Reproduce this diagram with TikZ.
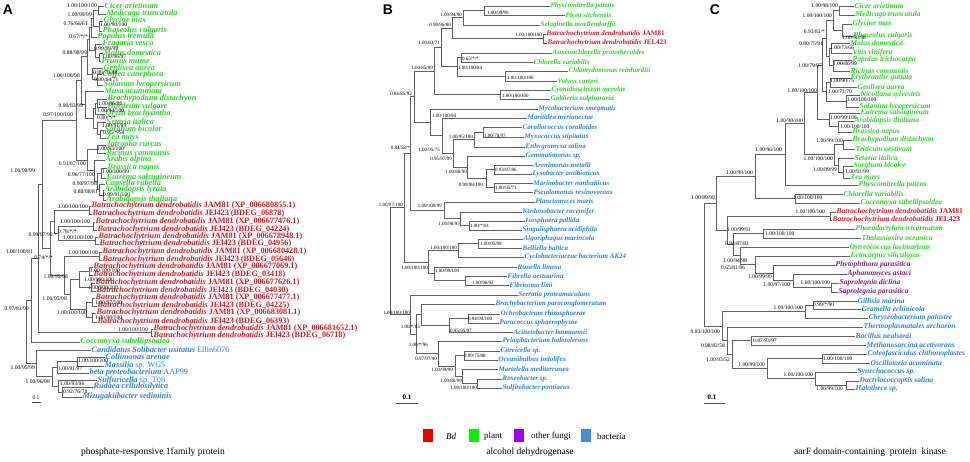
\documentclass[tikz,border=0pt]{standalone}
\usepackage{fontspec}
\setmainfont{Liberation Serif}
\newfontfamily\panelfont{Liberation Sans}
\definecolor{plantgreen}{RGB}{35,215,35}
\definecolor{bdred}{RGB}{215,25,35}
\definecolor{bacblue}{RGB}{40,130,220}
\definecolor{fungpurple}{RGB}{125,30,130}
\definecolor{lgred}{RGB}{245,0,0}
\definecolor{lggreen}{RGB}{0,245,0}
\definecolor{lgpurple}{RGB}{160,0,250}
\definecolor{lgblue}{RGB}{70,140,230}
\newcommand{\bdname}[1]{Batrachochytrium dendrobatidis \textup{#1}}
\newcommand{\plainpart}[1]{\textup{\mdseries #1}}
\tikzset{
  br/.style={draw=black!62, line width=0.6pt},
  lfA/.style={anchor=west, inner sep=0.5pt, font=\fontsize{8.2}{9}\selectfont\bfseries\itshape},
  lfB/.style={anchor=west, inner sep=0.5pt, font=\fontsize{7}{8}\selectfont\bfseries\itshape},
  lfC/.style={anchor=west, inner sep=0.5pt, font=\fontsize{7.5}{8}\selectfont\bfseries\itshape},
  bsA/.style={inner sep=0pt, font=\fontsize{5.6}{6}\selectfont},
  bsB/.style={inner sep=0pt, font=\fontsize{5}{6}\selectfont},
  bsC/.style={inner sep=0pt, font=\fontsize{5.5}{6}\selectfont},
  plant/.style={text=plantgreen},
  bd/.style={text=bdred},
  bac/.style={text=bacblue},
  fungi/.style={text=fungpurple},
  pnl/.style={font=\panelfont\bfseries\fontsize{14}{14}\selectfont, inner sep=0pt},
  ttl/.style={font=\fontsize{9.5}{10}\selectfont, inner sep=0pt},
  lgd/.style={anchor=west, font=\fontsize{9}{10}\selectfont, inner sep=0pt},
  swatch/.style={minimum width=10pt, minimum height=13pt, inner sep=0pt},
  sbar/.style={draw=black!70, line width=0.9pt}
}
\begin{document}
\begin{tikzpicture}[x=1pt,y=-1pt]
\fill[white] (0,0) rectangle (970,462);
\useasboundingbox (0,0) rectangle (970,462);

% ---------------- panel A
\node[pnl] (A-lab) at (8,10) {A};
\node[lfA,plant] (A-cic) at (104,6) {Cicer arietinum};
\node[lfA,plant] (A-med) at (106,14) {Medicago truncatula};
\node[lfA,plant] (A-gly) at (103,21) {Glycine max};
\node[lfA,plant] (A-pha) at (102,31) {Phaseolus vulgaris};
\node[lfA,plant] (A-pop) at (97,37) {Populus tremula};
\node[lfA,plant] (A-fra) at (102,44) {Fragaria vesca};
\node[lfA,plant] (A-mal) at (103,53) {Malus domestica};
\node[lfA,plant] (A-pru) at (101,61) {Prunus mume};
\node[lfA,plant] (A-gen) at (103,68) {Genlisea aurea};
\node[lfA,plant] (A-cof) at (102,74) {Coffea canephora};
\node[lfA,plant] (A-sol) at (103,85) {Solanum lycopersicum};
\node[lfA,plant] (A-mus) at (104,91) {Musa acuminata};
\node[lfA,plant] (A-bra) at (107,99) {Brachypodium distachyon};
\node[lfA,plant] (A-hor) at (107,107) {Hordeum vulgare};
\node[lfA,plant] (A-ory) at (105,114) {Oryza brachyantha};
\node[lfA,plant] (A-set) at (106,122) {Setaria italica};
\node[lfA,plant] (A-sor) at (104,130) {Sorghum bicolor};
\node[lfA,plant] (A-zea) at (106,138) {Zea mays};
\node[lfA,plant] (A-jat) at (106,145) {Jatropha curcas};
\node[lfA,plant] (A-ric) at (106,153) {Ricinus communis};
\node[lfA,plant] (A-ara) at (105,160) {Arabis alpina};
\node[lfA,plant] (A-bna) at (107,168) {Brassica napus};
\node[lfA,plant] (A-eut) at (106,178) {Eutrema salsugineum};
\node[lfA,plant] (A-cap) at (105,184) {Capsella rubella};
\node[lfA,plant] (A-aly) at (104,190) {Arabidopsis lyrata};
\node[lfA,plant] (A-ath) at (106,200) {Arabidopsis thaliana};
\node[lfA,bd] (A-bd1) at (91,206) {\bdname{JAM81 (XP\_006680855.1)}};
\node[lfA,bd] (A-bd2) at (92,214) {\bdname{JEl423 (BDEG\_06878)}};
\node[lfA,bd] (A-bd3) at (95,222) {\bdname{JAM81 (XP\_006677476.1)}};
\node[lfA,bd] (A-bd4) at (97,230) {\bdname{JEl423 (BDEG\_04224)}};
\node[lfA,bd] (A-bd5) at (98,237) {\bdname{JAM81 (XP\_006678948.1)}};
\node[lfA,bd] (A-bd6) at (99,244) {\bdname{JEl423 (BDEG\_04956)}};
\node[lfA,bd] (A-bd7) at (102,252) {\bdname{JAM81 (XP\_006680428.1)}};
\node[lfA,bd] (A-bd8) at (102,260) {\bdname{JEl423 (BDEG\_05646)}};
\node[lfA,bd] (A-bd9) at (93,267) {\bdname{JAM81 (XP\_006677069.1)}};
\node[lfA,bd] (A-bd10) at (93,275) {\bdname{JEl423 (BDEG\_03418)}};
\node[lfA,bd] (A-bd11) at (95,283) {\bdname{JAM81 (XP\_006677626.1)}};
\node[lfA,bd] (A-bd12) at (96,291) {\bdname{JEl423 (BDEG\_04030)}};
\node[lfA,bd] (A-bd13) at (95,298) {\bdname{JAM81 (XP\_006677477.1)}};
\node[lfA,bd] (A-bd14) at (97,306) {\bdname{JEl423 (BDEG\_04225)}};
\node[lfA,bd] (A-bd15) at (96,313) {\bdname{JAM81 (XP\_006683081.1)}};
\node[lfA,bd] (A-bd16) at (97,322) {\bdname{JEl423 (BDEG\_06393)}};
\node[lfA,bd] (A-bd17) at (153,329) {\bdname{JAM81 (XP\_006681652.1)}};
\node[lfA,bd] (A-bd18) at (153,336) {\bdname{JEl423 (BDEG\_06718)}};
\node[lfA,plant] (A-coc) at (80,342) {Coccomyxa subellipsoidea};
\node[lfA,bac] (A-can) at (91,350) {Candidatus Solibacter usitatus \plainpart{Ellin6076}};
\node[lfA,bac] (A-col) at (105,357) {Collimonas arenae};
\node[lfA,bac] (A-mas) at (104,366) {Massilia \plainpart{sp. WG5}};
\node[lfA,bac] (A-bet) at (89,373) {beta proteobacterium \plainpart{AAP99}};
\node[lfA,bac] (A-sul) at (97,380) {Sulfuricella \plainpart{sp. T08}};
\node[lfA,bac] (A-rud) at (93,387) {Rudaea cellulosilytica};
\node[lfA,bac] (A-miz) at (82,397) {Mizugakiibacter sediminis};

\coordinate (A1) at (98,10);
\coordinate (A2) at (99,26);
\coordinate (A3) at (93.5,18);
\coordinate (A4) at (91,27.5);
\coordinate (A5) at (99,57);
\coordinate (A6) at (95,50.5);
\coordinate (A7) at (89.5,39);
\coordinate (A8) at (97,79.5);
\coordinate (A9) at (92,74);
\coordinate (A10) at (87.5,56.5);
\coordinate (A11) at (97,103);
\coordinate (A12) at (95,108.5);
\coordinate (A13) at (100,134);
\coordinate (A14) at (97,128);
\coordinate (A15) at (93,118);
\coordinate (A16) at (85,104.5);
\coordinate (A17) at (81,80.5);
\coordinate (A18) at (97,149);
\coordinate (A19) at (101,173);
\coordinate (A20) at (103,195);
\coordinate (A21) at (99,189.5);
\coordinate (A22) at (97,181);
\coordinate (A23) at (94,170.5);
\coordinate (A24) at (87,160);
\coordinate (A25) at (76,120);
\coordinate (Ap1) at (89,210);
\coordinate (Ap2) at (93,226);
\coordinate (Ap3) at (95,240.5);
\coordinate (Ap4) at (99,256);
\coordinate (Ap5) at (89,271);
\coordinate (Ap6) at (91,287);
\coordinate (Ap7) at (92,302);
\coordinate (Ap8) at (92,317.5);
\coordinate (Ap9) at (151,332.5);
\coordinate (Ab2) at (58,233);
\coordinate (Ab1) at (54,221.5);
\coordinate (Ab5) at (79,279);
\coordinate (Ab6) at (86,309.75);
\coordinate (Ab7) at (70,294.4);
\coordinate (Ab8) at (64,275.2);
\coordinate (Ab9) at (50,248.3);
\coordinate (A26) at (42,184.2);
\coordinate (An2) at (38,258.4);
\coordinate (An3) at (31,300.2);
\coordinate (Ac5) at (77,361.5);
\coordinate (Ac3) at (57,367.2);
\coordinate (Ac7) at (62,392);
\coordinate (Ac6) at (58,386);
\coordinate (Ac2) at (52,376.6);
\coordinate (Ac1) at (36,363.3);
\coordinate (Aroot) at (26,331.8);

\draw[br] (A1) |- (A-cic) (A1) |- (A-med);
\draw[br] (A2) |- (A-gly) (A2) |- (A-pha);
\draw[br] (A3) |- (A1) (A3) |- (A2);
\draw[br] (A4) |- (A3) (A4) |- (A-pop);
\draw[br] (A5) |- (A-mal) (A5) |- (A-pru);
\draw[br] (A6) |- (A-fra) (A6) |- (A5);
\draw[br] (A7) |- (A4) (A7) |- (A6);
\draw[br] (A8) |- (A-cof) (A8) |- (A-sol);
\draw[br] (A9) |- (A-gen) (A9) |- (A8);
\draw[br] (A10) |- (A7) (A10) |- (A9);
\draw[br] (A11) |- (A-bra) (A11) |- (A-hor);
\draw[br] (A12) |- (A11) (A12) |- (A-ory);
\draw[br] (A13) |- (A-sor) (A13) |- (A-zea);
\draw[br] (A14) |- (A-set) (A14) |- (A13);
\draw[br] (A15) |- (A12) (A15) |- (A14);
\draw[br] (A16) |- (A-mus) (A16) |- (A15);
\draw[br] (A17) |- (A10) (A17) |- (A16);
\draw[br] (A18) |- (A-jat) (A18) |- (A-ric);
\draw[br] (A19) |- (A-bna) (A19) |- (A-eut);
\draw[br] (A20) |- (A-aly) (A20) |- (A-ath);
\draw[br] (A21) |- (A-cap) (A21) |- (A20);
\draw[br] (A22) |- (A19) (A22) |- (A21);
\draw[br] (A23) |- (A-ara) (A23) |- (A22);
\draw[br] (A24) |- (A18) (A24) |- (A23);
\draw[br] (A25) |- (A17) (A25) |- (A24);
\draw[br] (Ap1) |- (A-bd1) (Ap1) |- (A-bd2);
\draw[br] (Ap2) |- (A-bd3) (Ap2) |- (A-bd4);
\draw[br] (Ap3) |- (A-bd5) (Ap3) |- (A-bd6);
\draw[br] (Ap4) |- (A-bd7) (Ap4) |- (A-bd8);
\draw[br] (Ap5) |- (A-bd9) (Ap5) |- (A-bd10);
\draw[br] (Ap6) |- (A-bd11) (Ap6) |- (A-bd12);
\draw[br] (Ap7) |- (A-bd13) (Ap7) |- (A-bd14);
\draw[br] (Ap8) |- (A-bd15) (Ap8) |- (A-bd16);
\draw[br] (Ap9) |- (A-bd17) (Ap9) |- (A-bd18);
\draw[br] (Ab2) |- (Ap2) (Ab2) |- (Ap3);
\draw[br] (Ab1) |- (Ap1) (Ab1) |- (Ab2);
\draw[br] (Ab5) |- (Ap5) (Ab5) |- (Ap6);
\draw[br] (Ab6) |- (Ap7) (Ab6) |- (Ap8);
\draw[br] (Ab7) |- (Ab5) (Ab7) |- (Ab6);
\draw[br] (Ab8) |- (Ap4) (Ab8) |- (Ab7);
\draw[br] (Ab9) |- (Ab1) (Ab9) |- (Ab8);
\draw[br] (A26) |- (A25) (A26) |- (Ab9);
\draw[br] (An2) |- (A26) (An2) |- (Ap9);
\draw[br] (An3) |- (An2) (An3) |- (A-coc);
\draw[br] (Ac5) |- (A-col) (Ac5) |- (A-mas);
\draw[br] (Ac3) |- (Ac5) (Ac3) |- (A-bet);
\draw[br] (Ac7) |- (A-rud) (Ac7) |- (A-miz);
\draw[br] (Ac6) |- (A-sul) (Ac6) |- (Ac7);
\draw[br] (Ac2) |- (Ac3) (Ac2) |- (Ac6);
\draw[br] (Ac1) |- (A-can) (Ac1) |- (Ac2);
\draw[br] (Aroot) |- (An3) (Aroot) |- (Ac1);

\node[bsA,anchor=east] (sA1) at (97,6) {1.00/100/100};
\node[bsA,anchor=east] (sA2) at (92,15) {1.00/99/99};
\node[bsA,anchor=west] (sA3) at (100,25) {1.00/90/100};
\node[bsA,anchor=east] (sA4) at (88,24) {0.76/66/61};
\node[bsA,anchor=east] (sA5) at (88,37) {0.67/*/*};
\node[bsA,anchor=west] (sA6) at (94,49) {0.99/99/99};
\node[bsA,anchor=west] (sA7) at (102,57) {1.00/96/97};
\node[bsA,anchor=east] (sA8) at (87,53) {0.88/98/99};
\node[bsA,anchor=west] (sA9) at (93,73) {0.88/78/88};
\node[bsA,anchor=west] (sA10) at (94,80) {0.80/64/71};
\node[bsA,anchor=east] (sA11) at (80,76) {1.00/100/98};
\node[bsA,anchor=east] (sA12) at (83,106) {0.90/83/99};
\node[bsA,anchor=west] (sA13) at (98,104) {1.00/96/80};
\node[bsA,anchor=west] (sA14) at (97,111) {1.00/94/100};
\node[bsA,anchor=west] (sA15) at (97,118) {0.80/*/*};
\node[bsA,anchor=west] (sA16) at (102,126) {1.00/91/99};
\node[bsA,anchor=west] (sA17) at (103,133) {0.95/*/54};
\node[bsA,anchor=east] (sA18) at (73,115) {0.97/100/100};
\node[bsA,anchor=west] (sA19) at (97,149) {1.00/95/100};
\node[bsA,anchor=east] (sA20) at (35,171) {1.00/98/99};
\node[bsA,anchor=east] (sA21) at (86,164) {0.91/87/100};
\node[bsA,anchor=east] (sA22) at (95,175) {0.96/77/100};
\node[bsA,anchor=west] (sA23) at (102,172) {1.00/100/99};
\node[bsA,anchor=east] (sA24) at (97,184) {0.90/97/98};
\node[bsA,anchor=east] (sA25) at (98,192) {0.88/88/81};
\node[bsA,anchor=west] (sA26) at (103,195) {0.99/91/100};
\node[bsA,anchor=east] (sA27) at (88,207) {1.00/100/100};
\node[bsA,anchor=east] (sA28) at (90,222) {1.00/100/100};
\node[bsA,anchor=west] (sA29) at (58,232) {0.78/*/*};
\node[bsA,anchor=east] (sA30) at (53,235) {0.99/87/92};
\node[bsA,anchor=east] (sA31) at (93,238) {1.00/100/100};
\node[bsA,anchor=east] (sA32) at (98,253) {1.00/100/100};
\node[bsA,anchor=east] (sA33) at (33,252) {1.00/100/81};
\node[bsA,anchor=east] (sA34) at (53,258) {0.74/*/*};
\node[bsA,anchor=west] (sA35) at (90,271) {1.00/100/100};
\node[bsA,anchor=east] (sA36) at (68,277) {1.00/95/98};
\node[bsA,anchor=west] (sA37) at (84,280) {1.00/100/100};
\node[bsA,anchor=west] (sA38) at (88,288) {1.00/100/100};
\node[bsA,anchor=east] (sA39) at (67,299) {1.00/95/98};
\node[bsA,anchor=west] (sA40) at (95,303) {1.00/97/100};
\node[bsA,anchor=east] (sA41) at (29,309) {0.97/81/99};
\node[bsA,anchor=east] (sA42) at (87,313) {1.00/100/100};
\node[bsA,anchor=west] (sA43) at (95,318) {1.00/98/100};
\node[bsA,anchor=east] (sA44) at (148,330) {1.00/100/100};
\node[bsA,anchor=west] (sA45) at (78,361) {1.00/100/100};
\node[bsA,anchor=east] (sA46) at (35,368) {1.00/95/99};
\node[bsA,anchor=west] (sA47) at (58,369) {1.00/91/97};
\node[bsA,anchor=east] (sA48) at (50,382) {1.00/96/98};
\node[bsA,anchor=west] (sA49) at (60,384) {1.00/93/96};
\node[bsA,anchor=west] (sA50) at (63,392) {0.92/76/78};

\node[bsA] (A-sc) at (36,398) {0.1};
\coordinate (A-s0) at (31.5,402.5);
\coordinate (A-s1) at (40.5,402.5);
\draw[sbar,line width=0.6pt] (A-s0) -- (A-s1);

% ---------------- panel B
\node[pnl] (B-lab) at (388,10) {B};
\node[lfB,plant] (B-phy) at (550,6) {Physcomitrella patens};
\node[lfB,plant] (B-pic) at (565,15) {Picea sitchensis};
\node[lfB,plant] (B-sel) at (540,25) {Selaginella moellendorffii};
\node[lfB,bd] (B-bd1) at (546,34) {\bdname{JAM81}};
\node[lfB,bd] (B-bd2) at (547,43) {\bdname{JEL423}};
\node[lfB,plant] (B-aux) at (552,53) {Auxenochlorella protothecoides};
\node[lfB,plant] (B-chl) at (533,62) {Chlorella variabilis};
\node[lfB,plant] (B-chy) at (568,71) {Chlamydomonas reinhardtii};
\node[lfB,plant] (B-vol) at (557,81) {Volvox carteri};
\node[lfB,plant] (B-cya) at (551,90) {Cyanidioschyzon merolae};
\node[lfB,plant] (B-gal) at (550,99) {Galdieria sulphuraria};
\node[lfB,bac] (B-myc) at (538,109) {Mycobacterium smegmatis};
\node[lfB,bac] (B-mar) at (527,118) {Maritalea myrionectae};
\node[lfB,bac] (B-cor) at (522,127) {Corallococcus coralloides};
\node[lfB,bac] (B-myx) at (524,137) {Myxococcus stipitatus};
\node[lfB,bac] (B-enh) at (525,147) {Enhygromyxa salina};
\node[lfB,bac] (B-gem) at (525,156) {Gemmatimonas sp.};
\node[lfB,bac] (B-are) at (533,165) {Arenimonas metalli};
\node[lfB,bac] (B-lys) at (532,174) {Lysobacter antibioticus};
\node[lfB,bac] (B-mab) at (533,183) {Marinobacter nanhaiticus};
\node[lfB,bac] (B-pse) at (533,192) {Pseudomonas resinovorans};
\node[lfB,bac] (B-pla) at (535,202) {Planctomyces maris};
\node[lfB,bac] (B-kte) at (522,212) {Ktedonobacter racemifer};
\node[lfB,bac] (B-iso) at (525,221) {Isosphaera pallida};
\node[lfB,bac] (B-sin) at (522,230) {Singulisphaera acidiphila};
\node[lfB,bac] (B-alg) at (523,239) {Algoriphagus marincola};
\node[lfB,bac] (B-bel) at (522,248) {Belliella baltica};
\node[lfB,bac] (B-cyc) at (524,257) {Cyclobacteriaceae bacterium AK24};
\node[lfB,bac] (B-run) at (517,267) {Runella limosa};
\node[lfB,bac] (B-fil) at (507,276) {Fibrella aestuarina};
\node[lfB,bac] (B-fis) at (509,285) {Fibrisoma limi};
\node[lfB,bac] (B-ser) at (518,295) {Serratia proteamaculans};
\node[lfB,bac] (B-brb) at (495,304) {Brachybacterium paraconglomeratum};
\node[lfB,bac] (B-och) at (500,314) {Ochrobactrum rhizosphaerae};
\node[lfB,bac] (B-par) at (499,323) {Paracoccus sphaerophysae};
\node[lfB,bac] (B-aci) at (513,332) {Acinetobacter baumannii};
\node[lfB,bac] (B-pel) at (502,341) {Pelagibacterium halotolerans};
\node[lfB,bac] (B-cit) at (500,351) {Citreicella sp.};
\node[lfB,bac] (B-oce) at (498,360) {Oceanibulbus indolifex};
\node[lfB,bac] (B-mrt) at (498,369) {Martelella mediterranea};
\node[lfB,bac] (B-ros) at (502,379) {Roseobacter sp.};
\node[lfB,bac] (B-sft) at (502,388) {Sulfitobacter pontiacus};

\coordinate (B1) at (484,10.5);
\coordinate (B2) at (463,17.75);
\coordinate (B4) at (543,38.5);
\coordinate (B3) at (452,28.1);
\coordinate (B7) at (461,57.5);
\coordinate (B9) at (505,76);
\coordinate (B8) at (457,66.75);
\coordinate (B5) at (441,47.4);
\coordinate (B10) at (500,94.5);
\coordinate (B6) at (434,71);
\coordinate (B11) at (414,96.7);
\coordinate (Bc1) at (483,132);
\coordinate (Bc2) at (474,139.5);
\coordinate (Bc3) at (494,169.5);
\coordinate (Bc4) at (494,187.5);
\coordinate (Bc5) at (486,178.5);
\coordinate (Bc6) at (467,167.25);
\coordinate (Bc7) at (453,153.4);
\coordinate (Bc8) at (442,135.7);
\coordinate (Bc9) at (430,122.35);
\coordinate (Bc10) at (469,225.5);
\coordinate (Bc11) at (460,218.75);
\coordinate (Bc12) at (444,210.4);
\coordinate (Bc13) at (410,153.55);
\coordinate (Bc15) at (478,243.5);
\coordinate (Bc16) at (458,250.25);
\coordinate (Bc17) at (465,280.5);
\coordinate (Bc18) at (434,273.75);
\coordinate (Bc19) at (428,262);
\coordinate (Bx) at (404,207.8);
\coordinate (Bd1) at (468,318.5);
\coordinate (Bd2) at (449,325.25);
\coordinate (Bd3) at (421,314.6);
\coordinate (Bd4) at (464,355.5);
\coordinate (Bd5) at (477,383.5);
\coordinate (Bd6) at (462,376.25);
\coordinate (Bd7) at (455,365.9);
\coordinate (Bd8) at (438,353.4);
\coordinate (Bd9) at (416,334);
\coordinate (Bd10) at (410,314.5);
\coordinate (Broot) at (390,261.1);

\draw[br] (B1) |- (B-phy) (B1) |- (B-pic);
\draw[br] (B2) |- (B1) (B2) |- (B-sel);
\draw[br] (B4) |- (B-bd1) (B4) |- (B-bd2);
\draw[br] (B3) |- (B2) (B3) |- (B4);
\draw[br] (B7) |- (B-aux) (B7) |- (B-chl);
\draw[br] (B9) |- (B-chy) (B9) |- (B-vol);
\draw[br] (B8) |- (B7) (B8) |- (B9);
\draw[br] (B5) |- (B3) (B5) |- (B8);
\draw[br] (B10) |- (B-cya) (B10) |- (B-gal);
\draw[br] (B6) |- (B5) (B6) |- (B10);
\draw[br] (Bc1) |- (B-cor) (Bc1) |- (B-myx);
\draw[br] (Bc2) |- (Bc1) (Bc2) |- (B-enh);
\draw[br] (Bc3) |- (B-are) (Bc3) |- (B-lys);
\draw[br] (Bc4) |- (B-mab) (Bc4) |- (B-pse);
\draw[br] (Bc5) |- (Bc3) (Bc5) |- (Bc4);
\draw[br] (Bc6) |- (B-gem) (Bc6) |- (Bc5);
\draw[br] (Bc7) |- (Bc2) (Bc7) |- (Bc6);
\draw[br] (Bc8) |- (B-mar) (Bc8) |- (Bc7);
\draw[br] (Bc9) |- (B-myc) (Bc9) |- (Bc8);
\draw[br] (B11) |- (B6) (B11) |- (Bc9);
\draw[br] (Bc10) |- (B-iso) (Bc10) |- (B-sin);
\draw[br] (Bc11) |- (B-kte) (Bc11) |- (Bc10);
\draw[br] (Bc12) |- (B-pla) (Bc12) |- (Bc11);
\draw[br] (Bc13) |- (B11) (Bc13) |- (Bc12);
\draw[br] (Bc15) |- (B-alg) (Bc15) |- (B-bel);
\draw[br] (Bc16) |- (Bc15) (Bc16) |- (B-cyc);
\draw[br] (Bc17) |- (B-fil) (Bc17) |- (B-fis);
\draw[br] (Bc18) |- (B-run) (Bc18) |- (Bc17);
\draw[br] (Bc19) |- (Bc16) (Bc19) |- (Bc18);
\draw[br] (Bx) |- (Bc13) (Bx) |- (Bc19);
\draw[br] (Bd1) |- (B-och) (Bd1) |- (B-par);
\draw[br] (Bd2) |- (Bd1) (Bd2) |- (B-aci);
\draw[br] (Bd3) |- (B-brb) (Bd3) |- (Bd2);
\draw[br] (Bd4) |- (B-cit) (Bd4) |- (B-oce);
\draw[br] (Bd5) |- (B-ros) (Bd5) |- (B-sft);
\draw[br] (Bd6) |- (B-mrt) (Bd6) |- (Bd5);
\draw[br] (Bd7) |- (Bd4) (Bd7) |- (Bd6);
\draw[br] (Bd8) |- (B-pel) (Bd8) |- (Bd7);
\draw[br] (Bd9) |- (Bd3) (Bd9) |- (Bd8);
\draw[br] (Bd10) |- (B-ser) (Bd10) |- (Bd9);
\draw[br] (Broot) |- (Bx) (Broot) |- (Bd10);

\node[bsB,anchor=west] (sB1) at (487,13) {1.00/99/99};
\node[bsB,anchor=east] (sB2) at (462,15) {1.00/94/90};
\node[bsB,anchor=east] (sB3) at (451,25) {0.90/96/80};
\node[bsB,anchor=east] (sB4) at (542,35) {1.00/100/100};
\node[bsB,anchor=east] (sB5) at (440,43) {1.00/83/71};
\node[bsB,anchor=west] (sB6) at (462,59) {0.65/*/*};
\node[bsB,anchor=west] (sB7) at (458,68) {1.00/100/84};
\node[bsB,anchor=east] (sB8) at (433,68) {1.00/85/99};
\node[bsB,anchor=west] (sB9) at (507,78) {1.00/100/100};
\node[bsB,anchor=east] (sB10) at (412,94) {0.86/85/92};
\node[bsB,anchor=west] (sB11) at (502,96) {1.00/100/100};
\node[bsB,anchor=west] (sB12) at (432,116) {1.00/100/94};
\node[bsB,anchor=west] (sB13) at (484,136) {1.00/78/97};
\node[bsB,anchor=east] (sB14) at (473,137) {1.00/95/100};
\node[bsB,anchor=east] (sB15) at (410,148) {0.84/58/*};
\node[bsB,anchor=east] (sB16) at (440,150) {1.00/95/75};
\node[bsB,anchor=east] (sB17) at (452,159) {0.95/97/99};
\node[bsB,anchor=west] (sB18) at (495,170) {0.93/87/86};
\node[bsB,anchor=east] (sB19) at (467,172) {1.00/88/99};
\node[bsB,anchor=east] (sB20) at (483,185) {0.99/98/100};
\node[bsB,anchor=west] (sB21) at (495,188) {1.00/95/71};
\node[bsB,anchor=east] (sB22) at (403,205) {1.00/97/100};
\node[bsB,anchor=east] (sB23) at (442,206) {1.00/100/99};
\node[bsB,anchor=east] (sB24) at (460,224) {1.00/98/93};
\node[bsB,anchor=west] (sB25) at (470,226) {1.00/*/81};
\node[bsB,anchor=west] (sB26) at (480,244) {1.00/95/99};
\node[bsB,anchor=east] (sB27) at (457,248) {1.00/100/100};
\node[bsB,anchor=east] (sB28) at (428,268) {1.00/100/100};
\node[bsB,anchor=west] (sB29) at (435,271) {1.00/99/100};
\node[bsB,anchor=west] (sB30) at (472,283) {1.00/96/92};
\node[bsB,anchor=east] (sB31) at (410,313) {1.00/100/100};
\node[bsB,anchor=west] (sB32) at (468,319) {0.94/94/100};
\node[bsB,anchor=east] (sB33) at (420,327) {1.00/*/83};
\node[bsB,anchor=west] (sB34) at (450,331) {0.95/95/97};
\node[bsB,anchor=east] (sB35) at (428,345) {1.00/*/96};
\node[bsB,anchor=west] (sB36) at (464,356) {0.99/75/88};
\node[bsB,anchor=east] (sB37) at (437,359) {0.97/97/90};
\node[bsB,anchor=east] (sB38) at (453,370) {1.00/99/99};
\node[bsB,anchor=east] (sB39) at (462,381) {1.00/86/99};
\node[bsB,anchor=east] (sB40) at (477,388) {1.00/100/100};

\node[bsB,font=\fontsize{7}{7}\selectfont\bfseries] (B-sc) at (407,397) {0.1};
\coordinate (B-s0) at (396,403);
\coordinate (B-s1) at (418,403);
\draw[sbar] (B-s0) -- (B-s1);

% ---------------- panel C
\node[pnl] (C-lab) at (715,10) {C};
\node[lfC,plant] (C-cic) at (854,6) {Cicer arietinum};
\node[lfC,plant] (C-med) at (855,15) {Medicago truncatula};
\node[lfC,plant] (C-gly) at (852,24) {Glycine max};
\node[lfC,plant] (C-pha) at (853,36) {Phaseolus vulgaris};
\node[lfC,plant] (C-mal) at (850,43) {Malus domestica};
\node[lfC,plant] (C-vit) at (852,53) {Vitis vinifera};
\node[lfC,plant] (C-pop) at (852,60) {Populus trichocarpa};
\node[lfC,plant] (C-ric) at (850,71) {Ricinus communis};
\node[lfC,plant] (C-ery) at (850,78) {Erythranthe guttata};
\node[lfC,plant] (C-gen) at (857,87) {Genlisea aurea};
\node[lfC,plant] (C-nic) at (860,95) {Nicotiana sylvestris};
\node[lfC,plant] (C-sol) at (859,107) {Solanum lycopersicum};
\node[lfC,plant] (C-eut) at (860,113) {Eutrema salsugineum};
\node[lfC,plant] (C-ath) at (854,121) {Arabidopsis thaliana};
\node[lfC,plant] (C-bna) at (852,132) {Brassica napus};
\node[lfC,plant] (C-bra) at (852,140) {Brachypodium distachyon};
\node[lfC,plant] (C-tri) at (855,149) {Triticum aestivum};
\node[lfC,plant] (C-set) at (854,158) {Setaria italica};
\node[lfC,plant] (C-sor) at (853,166) {Sorghum bicolor};
\node[lfC,plant] (C-zea) at (850,178) {Zea mays};
\node[lfC,plant] (C-phy) at (858,185) {Physcomitrella patens};
\node[lfC,plant] (C-chl) at (843,194) {Chlorella variabilis};
\node[lfC,plant] (C-coc) at (860,203) {Coccomyxa subellipsoidea};
\node[lfC,bd] (C-bd1) at (836,212) {\bdname{JAM81}};
\node[lfC,bd] (C-bd2) at (832,220) {\bdname{JEL423}};
\node[lfC,plant] (C-pht) at (855,229) {Phaeodactylum tricornutum};
\node[lfC,plant] (C-tha) at (861,238) {Thalassiosira oceanica};
\node[lfC,plant] (C-ost) at (849,247) {Ostreococcus lucimarinus};
\node[lfC,plant] (C-ect) at (850,256) {Ectocarpus siliculosus};
\node[lfC,fungi] (C-php) at (835,265) {Phytophthora parasitica};
\node[lfC,fungi] (C-aph) at (847,274) {Aphanomyces astaci};
\node[lfC,fungi] (C-sdi) at (839,283) {Saprolegnia diclina};
\node[lfC,fungi] (C-spa) at (838,292) {Saprolegnia parasitica};
\node[lfC,bac] (C-gil) at (857,301) {Gillisia marina};
\node[lfC,bac] (C-gra) at (861,309) {Gramella echinicola};
\node[lfC,bac] (C-chr) at (868,318) {Chryseobacterium palustre};
\node[lfC,bac] (C-the) at (863,327) {Thermoplasmatales archaeon};
\node[lfC,bac] (C-bac) at (855,336) {Bacillus nealsonii};
\node[lfC,bac] (C-met) at (866,345) {Methanosarcina acetivorans};
\node[lfC,bac] (C-cle) at (867,354) {Coleofasciculus chthonoplastes};
\node[lfC,bac] (C-osc) at (870,363) {Oscillatoria acuminata};
\node[lfC,bac] (C-syn) at (857,372) {Synechococcus sp.};
\node[lfC,bac] (C-dac) at (859,381) {Dactylococcopsis salina};
\node[lfC,bac] (C-hal) at (855,389) {Halothece sp.};

\coordinate (C1) at (839,10.5);
\coordinate (C2) at (842,30);
\coordinate (C3) at (833,20.25);
\coordinate (C4) at (831,48);
\coordinate (C5) at (833,65.5);
\coordinate (C6) at (829,56.75);
\coordinate (C7) at (826,38.5);
\coordinate (C8) at (846,101);
\coordinate (C9) at (830,82.5);
\coordinate (C10) at (826,91.75);
\coordinate (C11) at (822,65.1);
\coordinate (C12) at (838,126.5);
\coordinate (C13) at (829,119.75);
\coordinate (C14) at (817,92.4);
\coordinate (C15) at (843,144.5);
\coordinate (C16) at (843,172);
\coordinate (C17) at (838,165);
\coordinate (C18) at (834,154.75);
\coordinate (C19) at (804,123.6);
\coordinate (C20) at (785,154.3);
\coordinate (C21) at (795,198.5);
\coordinate (C22) at (755,176.4);
\coordinate (C23) at (830,216);
\coordinate (C24) at (763,233.5);
\coordinate (C25) at (831,287.5);
\coordinate (C26) at (793,280.75);
\coordinate (C27) at (773,272.9);
\coordinate (C28) at (755,264.4);
\coordinate (C29) at (740,255.7);
\coordinate (C30) at (733,244.6);
\coordinate (C31) at (727,230.3);
\coordinate (C32) at (716,203.4);
\coordinate (C33) at (813,305);
\coordinate (C34) at (805,311.5);
\coordinate (C35) at (751,340.5);
\coordinate (C36) at (822,358.5);
\coordinate (C37) at (846,385);
\coordinate (C38) at (815,378.5);
\coordinate (C39) at (767,368.5);
\coordinate (C40) at (732,354.5);
\coordinate (C41) at (727,340.75);
\coordinate (C42) at (722,326.1);
\coordinate (Croot) at (704,264.8);

\draw[br] (C1) |- (C-cic) (C1) |- (C-med);
\draw[br] (C2) |- (C-gly) (C2) |- (C-pha);
\draw[br] (C3) |- (C1) (C3) |- (C2);
\draw[br] (C4) |- (C-mal) (C4) |- (C-vit);
\draw[br] (C5) |- (C-pop) (C5) |- (C-ric);
\draw[br] (C6) |- (C4) (C6) |- (C5);
\draw[br] (C7) |- (C3) (C7) |- (C6);
\draw[br] (C8) |- (C-nic) (C8) |- (C-sol);
\draw[br] (C9) |- (C-ery) (C9) |- (C-gen);
\draw[br] (C10) |- (C9) (C10) |- (C8);
\draw[br] (C11) |- (C7) (C11) |- (C10);
\draw[br] (C12) |- (C-ath) (C12) |- (C-bna);
\draw[br] (C13) |- (C-eut) (C13) |- (C12);
\draw[br] (C14) |- (C11) (C14) |- (C13);
\draw[br] (C15) |- (C-bra) (C15) |- (C-tri);
\draw[br] (C16) |- (C-sor) (C16) |- (C-zea);
\draw[br] (C17) |- (C-set) (C17) |- (C16);
\draw[br] (C18) |- (C15) (C18) |- (C17);
\draw[br] (C19) |- (C14) (C19) |- (C18);
\draw[br] (C20) |- (C19) (C20) |- (C-phy);
\draw[br] (C21) |- (C-chl) (C21) |- (C-coc);
\draw[br] (C22) |- (C20) (C22) |- (C21);
\draw[br] (C23) |- (C-bd1) (C23) |- (C-bd2);
\draw[br] (C24) |- (C-pht) (C24) |- (C-tha);
\draw[br] (C25) |- (C-sdi) (C25) |- (C-spa);
\draw[br] (C26) |- (C-aph) (C26) |- (C25);
\draw[br] (C27) |- (C-php) (C27) |- (C26);
\draw[br] (C28) |- (C-ect) (C28) |- (C27);
\draw[br] (C29) |- (C-ost) (C29) |- (C28);
\draw[br] (C30) |- (C24) (C30) |- (C29);
\draw[br] (C31) |- (C23) (C31) |- (C30);
\draw[br] (C32) |- (C22) (C32) |- (C31);
\draw[br] (C33) |- (C-gil) (C33) |- (C-gra);
\draw[br] (C34) |- (C33) (C34) |- (C-chr);
\draw[br] (C35) |- (C-bac) (C35) |- (C-met);
\draw[br] (C36) |- (C-cle) (C36) |- (C-osc);
\draw[br] (C37) |- (C-dac) (C37) |- (C-hal);
\draw[br] (C38) |- (C-syn) (C38) |- (C37);
\draw[br] (C39) |- (C36) (C39) |- (C38);
\draw[br] (C40) |- (C35) (C40) |- (C39);
\draw[br] (C41) |- (C-the) (C41) |- (C40);
\draw[br] (C42) |- (C34) (C42) |- (C41);
\draw[br] (Croot) |- (C32) (Croot) |- (C42);

\node[bsC,anchor=east] (sC1) at (838,6) {1.00/98/100};
\node[bsC,anchor=east] (sC2) at (832,16) {1.00/100/100};
\node[bsC,anchor=east] (sC3) at (825,32) {0.93/81/*};
\node[bsC,anchor=west] (sC4) at (842,38) {1.00/98/98};
\node[bsC,anchor=east] (sC5) at (823,44) {0.80/75/91};
\node[bsC,anchor=west] (sC6) at (830,48) {1.00/73/66};
\node[bsC,anchor=west] (sC7) at (833,64) {1.00/86/99};
\node[bsC,anchor=east] (sC8) at (822,66) {1.00/79/97};
\node[bsC,anchor=west] (sC9) at (830,81) {1.00/90/75};
\node[bsC,anchor=east] (sC10) at (817,91) {1.00/100/100};
\node[bsC,anchor=west] (sC11) at (828,92) {1.00/71/70};
\node[bsC,anchor=west] (sC12) at (847,100) {1.00/100/100};
\node[bsC,anchor=west] (sC13) at (830,118) {1.00/99/100};
\node[bsC,anchor=east] (sC14) at (803,121) {1.00/98/100};
\node[bsC,anchor=west] (sC15) at (840,127) {1.00/100/100};
\node[bsC,anchor=east] (sC16) at (843,141) {1.00/99/100};
\node[bsC,anchor=east] (sC17) at (782,150) {1.00/96/100};
\node[bsC,anchor=east] (sC18) at (833,159) {1.00/100/100};
\node[bsC,anchor=east] (sC19) at (837,170) {1.00/89/99};
\node[bsC,anchor=west] (sC20) at (845,172) {1.00/91/99};
\node[bsC,anchor=east] (sC21) at (753,173) {1.00/99/100};
\node[bsC,anchor=east] (sC22) at (715,198) {1.00/89/99};
\node[bsC,anchor=west] (sC23) at (793,198) {1.00/100/100};
\node[bsC,anchor=east] (sC24) at (825,212) {1.00/100/100};
\node[bsC,anchor=west] (sC25) at (727,230) {1.00/99/91};
\node[bsC,anchor=west] (sC26) at (765,234) {1.00/100/100};
\node[bsC,anchor=west] (sC27) at (725,244) {0.84/87/81};
\node[bsC,anchor=east] (sC28) at (747,261) {1.00/94/98};
\node[bsC,anchor=east] (sC29) at (745,268) {0.65/81/86};
\node[bsC,anchor=east] (sC30) at (772,277) {1.00/99/99};
\node[bsC,anchor=east] (sC31) at (830,283) {1.00/100/100};
\node[bsC,anchor=east] (sC32) at (790,285) {1.00/97/100};
\node[bsC,anchor=west] (sC33) at (813,305) {0.99/*/90};
\node[bsC,anchor=east] (sC34) at (803,308) {1.00/100/100};
\node[bsC,anchor=east] (sC35) at (720,332) {0.83/100/100};
\node[bsC,anchor=west] (sC36) at (753,341) {0.87/93/97};
\node[bsC,anchor=east] (sC37) at (725,346) {0.98/82/58};
\node[bsC,anchor=west] (sC38) at (823,359) {1.00/100/100};
\node[bsC,anchor=east] (sC39) at (730,360) {1.00/93/52};
\node[bsC,anchor=east] (sC40) at (765,365) {1.00/99/100};
\node[bsC,anchor=east] (sC41) at (813,375) {1.00/100/100};
\node[bsC,anchor=east] (sC42) at (843,389) {1.00/99/100};

\node[bsC,font=\fontsize{7}{7}\selectfont\bfseries] (C-sc) at (712,397) {0.1};
\coordinate (C-s0) at (704,403);
\coordinate (C-s1) at (725,403);
\draw[sbar] (C-s0) -- (C-s1);

% ---------------- legend and titles
\node[swatch,fill=lgred] (L-bd) at (428,436) {};
\node[lgd] (L-bdt) at (446,436) {\textit{Bd}};
\node[swatch,fill=lggreen] (L-pl) at (474,436) {};
\node[lgd] (L-plt) at (484,436) {plant};
\node[swatch,fill=lgpurple] (L-fu) at (519,436) {};
\node[lgd] (L-fut) at (531,436) {other fungi};
\node[swatch,fill=lgblue] (L-ba) at (586,436) {};
\node[lgd] (L-bat) at (597,436) {bacteria};

\node[ttl] (A-title) at (153,452) {phosphate-responsive 1family protein};
\node[ttl] (B-title) at (530,452) {alcohol dehydrogenase};
\node[ttl] (C-title) at (870,452) {aarF domain-containing\ \ protein\ \ kinase};
\end{tikzpicture}
\end{document}
